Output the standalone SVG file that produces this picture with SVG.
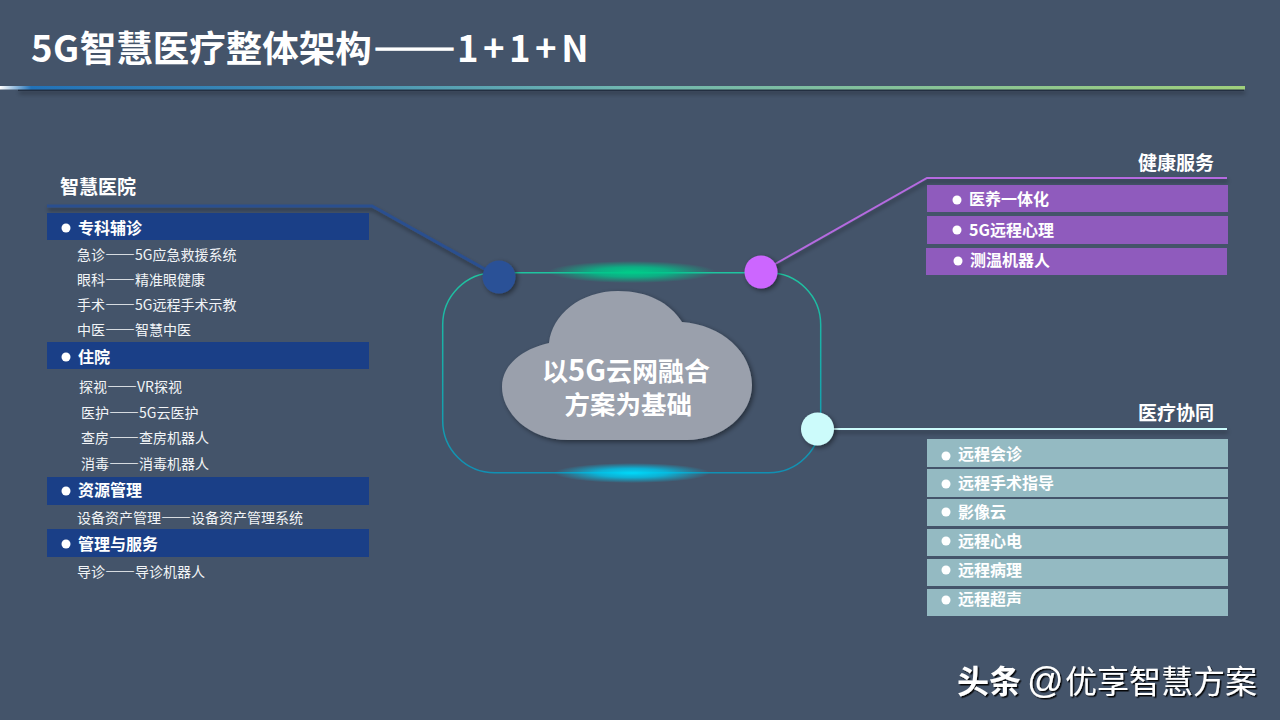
<svg xmlns="http://www.w3.org/2000/svg" width="1280" height="720" viewBox="0 0 1280 720" xml:lang="zh-CN">
<style>
text{font-family:"Noto Sans CJK SC","Noto Sans",sans-serif;fill:#fff}
.h{font-size:19px;font-weight:700}
.s{font-size:16px;font-weight:700}
.i{font-size:14px;fill:#f2f4f7}
.i tspan{font-size:15px}
.d{fill:#fff}
.navy{fill:#1a3f87}.pur{fill:#8f5bbd}.tea{fill:#94bac2}
.node{filter:url(#sh)}
.ln{filter:url(#lsh)}
</style>
<defs>
<linearGradient id="rule" x1="0" x2="1" y1="0" y2="0"><stop offset="0" stop-color="#fff"/><stop offset=".025" stop-color="#2272b8"/><stop offset=".2" stop-color="#3a88b5"/><stop offset=".5" stop-color="#70b6b0"/><stop offset="1" stop-color="#a0d07c"/></linearGradient>
<linearGradient id="ring" x1="0" x2="0" y1="0" y2="1"><stop offset="0" stop-color="#1fc4a0"/><stop offset="1" stop-color="#1090b4"/></linearGradient>
<radialGradient id="gg"><stop offset="0" stop-color="#00cc88"/><stop offset=".45" stop-color="#00c48a" stop-opacity=".8"/><stop offset="1" stop-color="#00c48a" stop-opacity="0"/></radialGradient>
<radialGradient id="gb"><stop offset="0" stop-color="#00d8f8"/><stop offset=".45" stop-color="#00c8ee" stop-opacity=".8"/><stop offset="1" stop-color="#00c8ee" stop-opacity="0"/></radialGradient>
<filter id="sh" x="-30%" y="-30%" width="170%" height="170%"><feDropShadow dx="2" dy="2" stdDeviation="2.500" flood-color="#000" flood-opacity=".45"/></filter>
<filter id="lsh" filterUnits="userSpaceOnUse" x="0" y="0" width="1280" height="720"><feDropShadow dx="1" dy="3" stdDeviation="2" flood-color="#000" flood-opacity=".4"/></filter>
<filter id="wm" x="-5%" y="-20%" width="110%" height="140%"><feDropShadow dx="1.500" dy="1.500" stdDeviation=".4" flood-color="#000" flood-opacity=".9"/></filter>
</defs>
<rect width="1280" height="720" fill="#44546a"/>
<g id="title">
<text x="31" y="62" font-size="36.500" font-weight="700"><tspan letter-spacing=".5">5G</tspan>智慧医疗整体架构<tspan x="373" y="64.500" font-size="41.500" stroke="#fff" stroke-width="1.300">——</tspan><tspan x="457" y="62" letter-spacing="4.500">1+1+N</tspan></text>
<rect x="18" y="88" width="1226" height="3" fill="#1c2838" opacity=".8" class="ln"/>
<rect x="0" y="86" width="1245" height="3.500" fill="url(#rule)"/>
</g>
<g id="connectors" fill="none">
<rect x="442.700" y="272.700" width="378" height="200" rx="52" stroke="url(#ring)" stroke-width="1.500"/>
<ellipse cx="632" cy="272" rx="84" ry="11" fill="url(#gg)"/>
<ellipse cx="632" cy="473" rx="78" ry="10" fill="url(#gb)"/>
<path class="ln" d="M47 206H372L499 277" stroke="#2b4f8f" stroke-width="3"/>
<path class="ln" d="M761 272L927 178H1227" stroke="#b56be0" stroke-width="2"/>
<path class="ln" d="M818 429H1227" stroke="#ccfbfb" stroke-width="2"/>
</g>
<g id="cloud">
<path class="node" d="M568 440C528 440 502 412 502 387C502 365 522 349 549 343C552 315 580 291 618 291C648 291 670 303 682 322C722 325 752 352 752 385C752 415 722 440 687 440Z" fill="#9aa0ac"/>
<text font-size="26" font-weight="700"><tspan x="542" y="381">以</tspan><tspan font-size="29">5G</tspan><tspan>云网融合</tspan><tspan x="564.500" y="414" font-size="25.500">方案为基础</tspan></text>
</g>
<g id="node-blue"><circle class="node" cx="499" cy="277" r="16.500" fill="#2b5197"/></g>
<g id="node-purple"><circle class="node" cx="761" cy="272" r="16.500" fill="#cc66ff"/></g>
<g id="node-light"><circle class="node" cx="817.500" cy="429" r="16.500" fill="#ccfbfb"/></g>
<g id="hospital">
<text class="h" x="60" y="194">智慧医院</text>
<rect class="navy" x="47" y="213" width="322" height="27"/><circle class="d" cx="66" cy="228" r="4.500"/><text class="s" x="78" y="234">专科辅诊</text>
<text class="i" x="77" y="260">急诊<tspan>——</tspan>5G应急救援系统</text>
<text class="i" x="77" y="285">眼科<tspan>——</tspan>精准眼健康</text>
<text class="i" x="77" y="310">手术<tspan>——</tspan>5G远程手术示教</text>
<text class="i" x="77" y="335">中医<tspan>——</tspan>智慧中医</text>
<rect class="navy" x="47" y="342" width="322" height="27"/><circle class="d" cx="66" cy="357" r="4.500"/><text class="s" x="78" y="363">住院</text>
<text class="i" x="79" y="392">探视<tspan>——</tspan>VR探视</text>
<text class="i" x="81" y="418">医护<tspan>——</tspan>5G云医护</text>
<text class="i" x="81" y="443">查房<tspan>——</tspan>查房机器人</text>
<text class="i" x="81" y="469">消毒<tspan>——</tspan>消毒机器人</text>
<rect class="navy" x="47" y="477" width="322" height="28"/><circle class="d" cx="66" cy="491" r="4.500"/><text class="s" x="78" y="496">资源管理</text>
<text class="i" x="77" y="523">设备资产管理<tspan>——</tspan>设备资产管理系统</text>
<rect class="navy" x="47" y="529" width="322" height="28"/><circle class="d" cx="66" cy="544" r="4.500"/><text class="s" x="78" y="550">管理与服务</text>
<text class="i" x="77" y="577">导诊<tspan>——</tspan>导诊机器人</text>
</g>
<g id="health">
<text class="h" x="1138" y="170">健康服务</text>
<rect class="pur" x="927" y="185" width="301" height="27"/><circle class="d" cx="957" cy="200" r="4.500"/><text class="s" x="969" y="205">医养一体化</text>
<rect class="pur" x="927" y="216" width="301" height="28"/><circle class="d" cx="957" cy="230" r="4.500"/><text class="s" x="969" y="236">5G远程心理</text>
<rect class="pur" x="926" y="248" width="301" height="27"/><circle class="d" cx="958" cy="261" r="4.500"/><text class="s" x="970" y="266">测温机器人</text>
</g>
<g id="collab">
<text class="h" x="1138" y="420">医疗协同</text>
<rect class="tea" x="927" y="439" width="301" height="28"/><circle class="d" cx="946" cy="456" r="4.500"/><text class="s" x="958" y="460">远程会诊</text>
<rect class="tea" x="927" y="469" width="301" height="28"/><circle class="d" cx="946" cy="484" r="4.500"/><text class="s" x="958" y="489">远程手术指导</text>
<rect class="tea" x="927" y="499" width="301" height="27"/><circle class="d" cx="946" cy="512" r="4.500"/><text class="s" x="958" y="518">影像云</text>
<rect class="tea" x="927" y="529" width="301" height="27"/><circle class="d" cx="946" cy="541" r="4.500"/><text class="s" x="958" y="547">远程心电</text>
<rect class="tea" x="927" y="559" width="301" height="27"/><circle class="d" cx="946" cy="570" r="4.500"/><text class="s" x="958" y="576">远程病理</text>
<rect class="tea" x="927" y="589" width="301" height="27"/><circle class="d" cx="946" cy="600" r="4.500"/><text class="s" x="958" y="605">远程超声</text>
</g>
<g id="watermark" filter="url(#wm)">
<text x="957" y="693" font-size="32" font-weight="700">头条</text>
<text x="1027" y="693" font-size="36" style="font-family:'Liberation Sans',sans-serif">@</text>
<text x="1065" y="693" font-size="32">优享智慧方案</text>
</g>
</svg>
